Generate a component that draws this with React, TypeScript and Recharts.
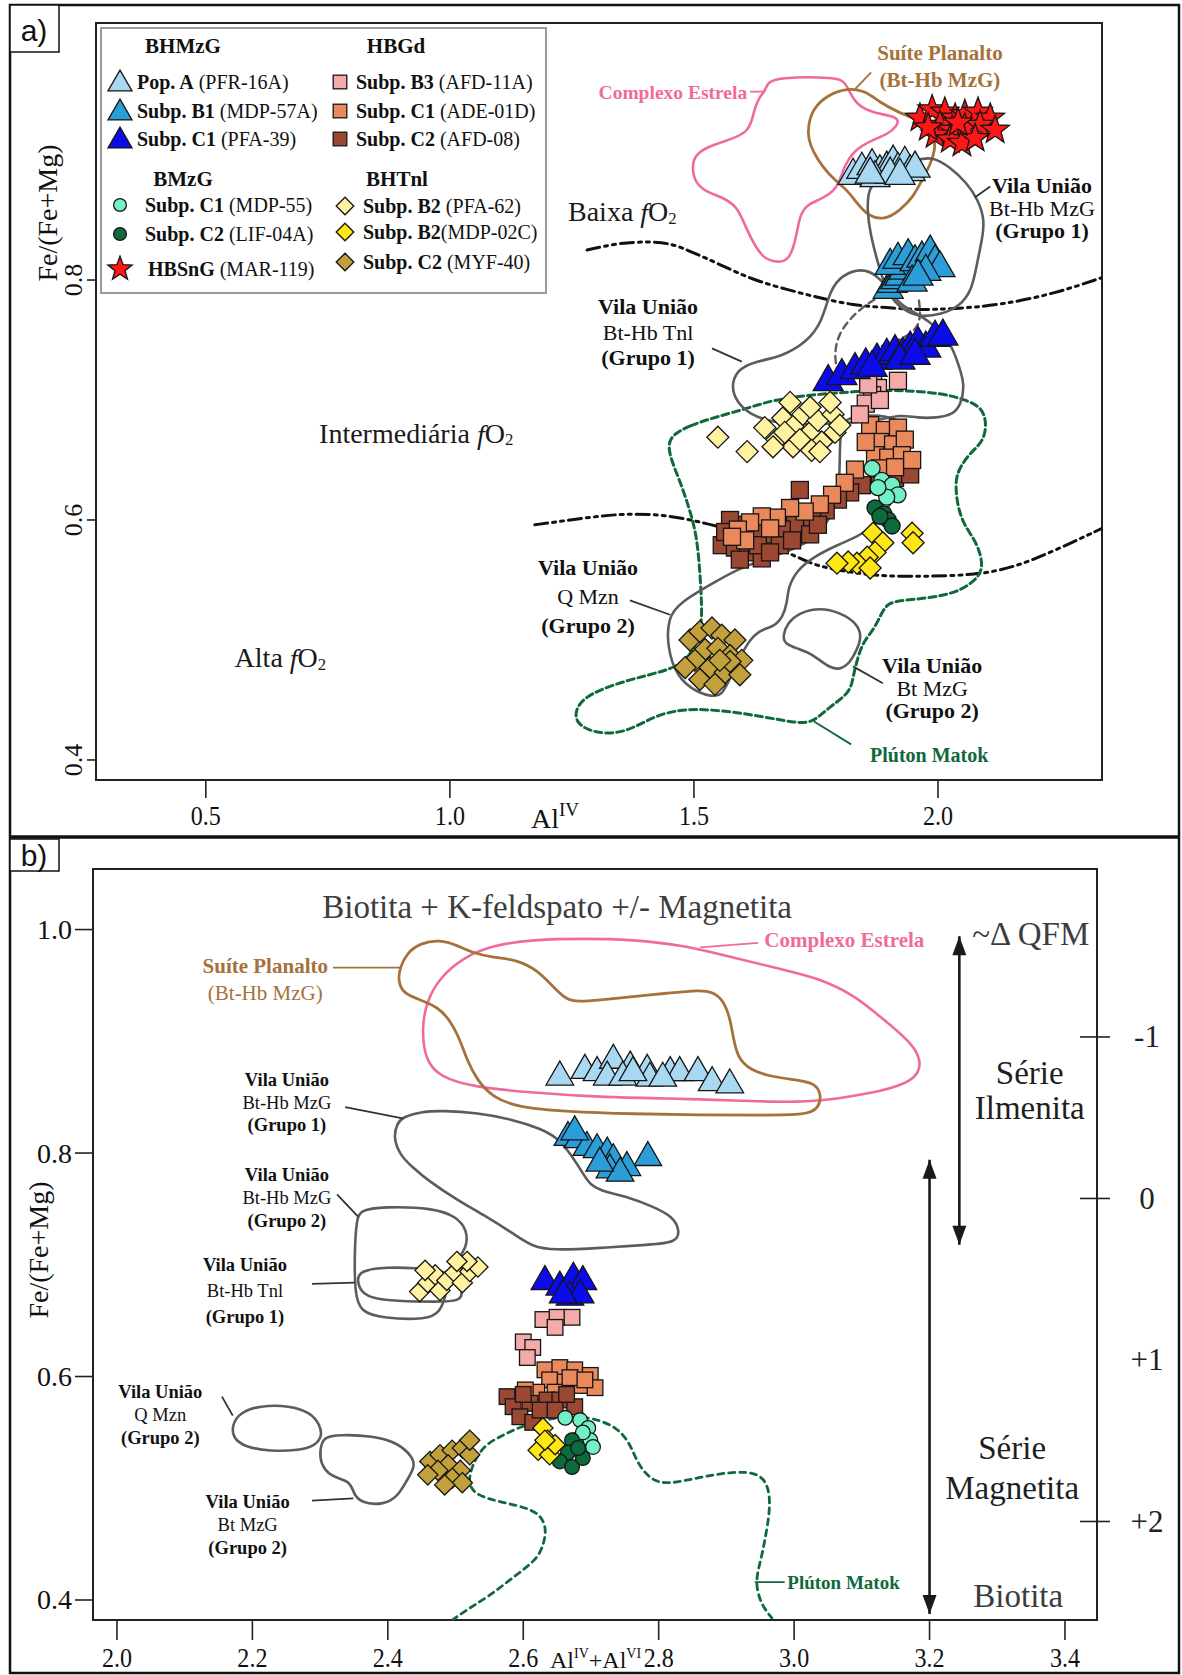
import React from 'react';
import { ScatterChart, Scatter, XAxis, YAxis, ReferenceArea } from 'recharts';

type P = [number, number];

const SERIF = '"Liberation Serif", "Times New Roman", Times, serif';
const SANS = '"Liberation Sans", Arial, sans-serif';

/* ====================== Panel a : Al(IV) x Fe/(Fe+Mg) ====================== */

const aXTicks = [0.5, 1.0, 1.5, 2.0];
const aYTicks = [0.4, 0.6, 0.8];

// BHMzG
const aPopA: P[] = [[1.826,0.887],[1.844,0.892],[1.865,0.895],[1.881,0.890],[1.895,0.893],[1.908,0.898],[1.918,0.892],[1.932,0.897],[1.943,0.890],[1.953,0.893],[1.871,0.885],[1.902,0.888],[1.922,0.887],[1.861,0.888]];
const aSubpB1: P[] = [[1.898,0.792],[1.906,0.797],[1.914,0.800],[1.922,0.803],[1.930,0.808],[1.902,0.812],[1.918,0.817],[1.939,0.820],[1.953,0.815],[1.967,0.818],[1.984,0.823],[1.994,0.815],[2.004,0.810],[1.975,0.807],[1.947,0.798],[1.959,0.803]];
const aSubpC1Tri: P[] = [[1.775,0.715],[1.803,0.720],[1.830,0.725],[1.852,0.729],[1.875,0.733],[1.895,0.737],[1.912,0.740],[1.928,0.738],[1.943,0.743],[1.959,0.747],[1.975,0.743],[1.994,0.752],[2.010,0.753],[1.922,0.733],[1.953,0.737],[1.865,0.727]];
// HBGd
const aSubpB3: P[] = [[1.867,0.722],[1.918,0.716],[1.877,0.710],[1.865,0.704],[1.852,0.697],[1.840,0.688],[1.881,0.700],[1.857,0.713]];
const aSubpC1Sq: P[] = [[1.861,0.679],[1.891,0.675],[1.918,0.677],[1.881,0.665],[1.908,0.663],[1.932,0.667],[1.871,0.654],[1.898,0.652],[1.926,0.654],[1.881,0.643],[1.912,0.644],[1.852,0.665],[1.947,0.650],[1.830,0.642],[1.809,0.631],[1.783,0.621],[1.758,0.613],[1.727,0.607],[1.697,0.610],[1.670,0.602],[1.639,0.603],[1.615,0.598],[1.590,0.592],[1.605,0.583],[1.578,0.586],[1.656,0.593]];
const aSubpC2Sq: P[] = [[1.932,0.643],[1.912,0.635],[1.943,0.638],[1.881,0.633],[1.844,0.629],[1.820,0.623],[1.795,0.617],[1.770,0.608],[1.742,0.602],[1.717,0.625],[1.707,0.596],[1.680,0.592],[1.652,0.588],[1.625,0.592],[1.598,0.596],[1.574,0.600],[1.557,0.579],[1.584,0.577],[1.611,0.573],[1.639,0.568],[1.676,0.579],[1.701,0.583],[1.738,0.588],[1.754,0.596],[1.564,0.590],[1.631,0.579],[1.594,0.567],[1.656,0.573]];
// BMzG
const aSubpC1Circ: P[] = [[1.865,0.643],[1.885,0.633],[1.906,0.629],[1.918,0.621],[1.895,0.619],[1.877,0.627]];
const aSubpC2Circ: P[] = [[1.871,0.610],[1.889,0.605],[1.898,0.600],[1.906,0.595],[1.881,0.603]];
const aHBSnG: P[] = [[1.963,0.935],[1.988,0.942],[2.014,0.940],[2.035,0.935],[2.055,0.938],[2.082,0.940],[2.107,0.935],[2.004,0.929],[2.029,0.925],[2.055,0.927],[2.086,0.929],[2.117,0.925],[1.994,0.921],[2.025,0.917],[2.049,0.914],[2.076,0.918],[1.980,0.927],[2.041,0.931]];
// BHTnl
const aSubpB2Light: P[] = [[1.549,0.669],[1.609,0.657],[1.645,0.677],[1.670,0.667],[1.682,0.685],[1.703,0.678],[1.723,0.688],[1.738,0.673],[1.754,0.683],[1.762,0.665],[1.785,0.688],[1.789,0.673],[1.703,0.661],[1.741,0.658],[1.662,0.661],[1.758,0.657],[1.697,0.698],[1.738,0.694],[1.779,0.698],[1.686,0.673],[1.717,0.667],[1.799,0.679]];
const aSubpB2Yellow: P[] = [[1.867,0.589],[1.887,0.581],[1.871,0.573],[1.855,0.569],[1.834,0.564],[1.816,0.565],[1.793,0.564],[1.861,0.560],[1.947,0.589],[1.949,0.581]];
const aSubpC2Olive: P[] = [[1.492,0.500],[1.512,0.507],[1.537,0.510],[1.557,0.504],[1.584,0.500],[1.523,0.492],[1.549,0.493],[1.574,0.487],[1.598,0.483],[1.502,0.483],[1.482,0.477],[1.533,0.477],[1.564,0.473],[1.594,0.471],[1.512,0.467],[1.543,0.463],[1.574,0.482],[1.553,0.483]];

// fields of comparison units
const aEstrela: P[] = [[1.645,0.957],[1.650,0.964],[1.670,0.969],[1.793,0.969],[1.809,0.965],[1.820,0.956],[1.834,0.946],[1.867,0.939],[1.922,0.936],[1.916,0.928],[1.895,0.921],[1.867,0.917],[1.826,0.908],[1.805,0.892],[1.793,0.875],[1.758,0.867],[1.732,0.863],[1.717,0.854],[1.711,0.839],[1.697,0.815],[1.662,0.815],[1.641,0.819],[1.621,0.831],[1.600,0.850],[1.588,0.861],[1.559,0.869],[1.527,0.873],[1.502,0.881],[1.496,0.894],[1.502,0.904],[1.527,0.911],[1.574,0.917],[1.609,0.923],[1.619,0.933],[1.625,0.944],[1.635,0.953]];
const aPlanalto: P[] = [[1.734,0.929],[1.744,0.943],[1.773,0.954],[1.814,0.960],[1.850,0.958],[1.881,0.948],[1.922,0.939],[1.963,0.933],[1.994,0.921],[1.994,0.908],[1.984,0.896],[1.967,0.883],[1.949,0.869],[1.922,0.858],[1.891,0.850],[1.857,0.853],[1.834,0.864],[1.814,0.875],[1.789,0.883],[1.764,0.894],[1.744,0.907],[1.734,0.918]];
const aVilaMzG1: P[] = [[1.867,0.881],[1.902,0.892],[1.953,0.900],[1.988,0.903],[2.025,0.894],[2.059,0.881],[2.082,0.867],[2.096,0.850],[2.090,0.833],[2.080,0.814],[2.070,0.792],[2.045,0.778],[2.004,0.771],[1.963,0.769],[1.928,0.775],[1.902,0.786],[1.887,0.800],[1.875,0.817],[1.861,0.839],[1.855,0.858],[1.857,0.873]];
const aVilaTnl1: P[] = [[1.844,0.810],[1.875,0.804],[1.900,0.792],[1.924,0.778],[1.982,0.767],[2.027,0.748],[2.043,0.728],[2.055,0.713],[2.047,0.696],[2.031,0.688],[1.998,0.685],[1.957,0.685],[1.922,0.688],[1.881,0.683],[1.820,0.681],[1.713,0.679],[1.656,0.682],[1.615,0.688],[1.588,0.698],[1.576,0.711],[1.588,0.725],[1.623,0.732],[1.680,0.736],[1.730,0.748],[1.762,0.764],[1.779,0.792],[1.803,0.804]];
const aVilaTnl1DashA: P[] = [[1.961,0.783],[1.965,0.768],[1.953,0.757],[1.912,0.748],[1.875,0.744]];
const aVilaTnl1DashB: P[] = [[1.891,0.789],[1.850,0.779],[1.820,0.768],[1.795,0.754],[1.787,0.737],[1.795,0.722]];
const aVilaQMzn2: P[] = [[1.799,0.675],[1.809,0.685],[1.861,0.688],[1.922,0.685],[1.936,0.671],[1.932,0.642],[1.912,0.617],[1.867,0.594],[1.834,0.586],[1.793,0.579],[1.744,0.569],[1.711,0.558],[1.693,0.544],[1.691,0.531],[1.682,0.519],[1.662,0.510],[1.615,0.507],[1.564,0.457],[1.547,0.452],[1.506,0.456],[1.465,0.469],[1.445,0.494],[1.447,0.519],[1.471,0.531],[1.533,0.546],[1.594,0.560],[1.650,0.568],[1.717,0.577],[1.768,0.592],[1.795,0.617],[1.799,0.642]];
const aVilaBtMzG2: P[] = [[1.682,0.503],[1.691,0.514],[1.717,0.523],[1.758,0.527],[1.799,0.523],[1.834,0.514],[1.844,0.503],[1.834,0.492],[1.820,0.481],[1.799,0.475],[1.779,0.477],[1.758,0.483],[1.738,0.489],[1.711,0.493],[1.686,0.497]];
const aMatok: P[] = [[1.445,0.669],[1.492,0.679],[1.547,0.686],[1.609,0.693],[1.662,0.700],[1.732,0.704],[1.799,0.706],[1.861,0.708],[1.928,0.708],[2.004,0.706],[2.059,0.700],[2.092,0.693],[2.100,0.679],[2.092,0.665],[2.066,0.656],[2.045,0.644],[2.035,0.633],[2.039,0.614],[2.051,0.597],[2.080,0.581],[2.092,0.564],[2.086,0.553],[2.051,0.542],[2.004,0.536],[1.928,0.533],[1.895,0.531],[1.881,0.519],[1.867,0.508],[1.846,0.498],[1.834,0.483],[1.826,0.469],[1.820,0.456],[1.777,0.444],[1.746,0.432],[1.715,0.430],[1.621,0.438],[1.498,0.444],[1.422,0.438],[1.359,0.422],[1.297,0.422],[1.254,0.431],[1.260,0.447],[1.301,0.458],[1.369,0.467],[1.430,0.473],[1.486,0.481],[1.516,0.506],[1.516,0.531],[1.512,0.558],[1.506,0.586],[1.492,0.608],[1.471,0.633],[1.451,0.652]];
// fO2 boundaries
const aFO2Upper: P[] = [[1.281,0.825],[1.348,0.831],[1.404,0.832],[1.451,0.831],[1.498,0.823],[1.553,0.813],[1.621,0.800],[1.691,0.792],[1.758,0.785],[1.826,0.779],[1.895,0.777],[1.963,0.775],[2.031,0.776],[2.127,0.779],[2.242,0.789],[2.336,0.802]];
const aFO2Lower: P[] = [[1.174,0.596],[1.211,0.598],[1.281,0.602],[1.348,0.605],[1.416,0.605],[1.471,0.602],[1.527,0.597],[1.574,0.592],[1.635,0.582],[1.691,0.573],[1.723,0.567],[1.758,0.561],[1.826,0.556],[1.895,0.553],[1.963,0.553],[2.080,0.554],[2.160,0.561],[2.242,0.575],[2.336,0.593]];
// label leaders
const aLeadEstrela: P[] = [[1.615,0.957],[1.645,0.957]];
const aLeadPlanalto: P[] = [[1.830,0.959],[1.863,0.973]];
const aLeadMzG1: P[] = [[2.076,0.869],[2.107,0.878]];
const aLeadTnl1: P[] = [[1.537,0.743],[1.598,0.732]];
const aLeadQMzn2: P[] = [[1.369,0.533],[1.451,0.521]];
const aLeadBtMzG2: P[] = [[1.826,0.478],[1.887,0.464]];
const aLeadMatok: P[] = [[1.746,0.432],[1.822,0.413]];

const aNotes = [
  { x: 1.609, y: 0.957, lines: ['Complexo Estrela'], style: 'pink', anchor: 'end' },
  { x: 2.004, y: 0.989, lines: ['Suíte Planalto', '(Bt-Hb MzG)'], style: 'brown', gap: 27 },
  { x: 2.213, y: 0.879, lines: ['*Vila União', 'Bt-Hb MzG', '*(Grupo 1)'], style: 'gray', gap: 22.5 },
  { x: 1.242, y: 0.857, lines: ['Baixa fO2'], style: 'zone', anchor: 'start' },
  { x: 0.732, y: 0.672, lines: ['Intermediária fO2'], style: 'zone', anchor: 'start' },
  { x: 0.559, y: 0.485, lines: ['Alta fO2'], style: 'zone', anchor: 'start' },
  { x: 1.406, y: 0.778, lines: ['*Vila União', 'Bt-Hb Tnl', '*(Grupo 1)'], style: 'gray', gap: 25.5 },
  { x: 1.283, y: 0.561, lines: ['*Vila União', 'Q Mzn', '*(Grupo 2)'], style: 'gray', gap: 29 },
  { x: 1.988, y: 0.479, lines: ['*Vila União', 'Bt MzG', '*(Grupo 2)'], style: 'gray', gap: 22.5 },
  { x: 1.982, y: 0.404, lines: ['Plúton Matok'], style: 'green' },
];

/* ================= Panel b : (Al(IV)+Al(VI)) x Fe/(Fe+Mg) ================= */

const bXTicks = [2.0, 2.2, 2.4, 2.6, 2.8, 3.0, 3.2, 3.4];
const bYTicks = [0.4, 0.6, 0.8, 1.0];
const bQfmTicks = [-1, 0, 1, 2];

const bPopA: P[] = [[2.654,0.868],[2.691,0.874],[2.709,0.872],[2.733,0.883],[2.758,0.877],[2.783,0.874],[2.817,0.872],[2.831,0.872],[2.858,0.872],[2.879,0.863],[2.905,0.861],[2.724,0.868],[2.747,0.868],[2.787,0.867],[2.806,0.867],[2.762,0.872]];
const bSubpB1: P[] = [[2.666,0.814],[2.681,0.812],[2.694,0.805],[2.709,0.803],[2.724,0.800],[2.733,0.794],[2.728,0.785],[2.784,0.796],[2.753,0.787],[2.743,0.782],[2.676,0.819],[2.713,0.791]];
const bSubpC1Tri: P[] = [[2.632,0.685],[2.654,0.680],[2.665,0.676],[2.674,0.688],[2.688,0.685],[2.669,0.671],[2.684,0.673],[2.659,0.673]];
const bSubpB3: P[] = [[2.629,0.651],[2.650,0.653],[2.672,0.653],[2.647,0.644],[2.600,0.631],[2.614,0.626],[2.606,0.617]];
const bSubpC1Sq: P[] = [[2.632,0.606],[2.654,0.608],[2.676,0.606],[2.699,0.601],[2.639,0.597],[2.662,0.595],[2.684,0.592],[2.706,0.590],[2.620,0.586],[2.647,0.586],[2.603,0.588],[2.669,0.599],[2.691,0.597]];
const bSubpC2Sq: P[] = [[2.576,0.582],[2.585,0.573],[2.610,0.576],[2.635,0.579],[2.654,0.579],[2.676,0.573],[2.595,0.564],[2.614,0.559],[2.625,0.570],[2.647,0.570],[2.600,0.584],[2.664,0.584]];
const bSubpC1Circ: P[] = [[2.662,0.563],[2.684,0.561],[2.696,0.554],[2.699,0.543],[2.676,0.543],[2.703,0.537],[2.688,0.550]];
const bSubpC2Circ: P[] = [[2.672,0.543],[2.666,0.532],[2.654,0.524],[2.672,0.519],[2.688,0.527],[2.681,0.536]];
const bSubpB2Light: P[] = [[2.447,0.676],[2.459,0.684],[2.470,0.691],[2.477,0.677],[2.487,0.686],[2.499,0.693],[2.510,0.684],[2.521,0.694],[2.533,0.698],[2.517,0.703],[2.502,0.703],[2.455,0.695]];
const bSubpB2Yellow: P[] = [[2.629,0.554],[2.636,0.543],[2.622,0.534],[2.639,0.530],[2.647,0.539],[2.632,0.543]];
const bSubpC2Olive: P[] = [[2.462,0.524],[2.477,0.530],[2.495,0.534],[2.510,0.536],[2.521,0.530],[2.489,0.521],[2.507,0.516],[2.474,0.516],[2.495,0.509],[2.510,0.505],[2.484,0.503],[2.459,0.512],[2.521,0.543]];

const bEstrela: P[] = [[2.455,0.883],[2.450,0.913],[2.458,0.937],[2.477,0.957],[2.511,0.975],[2.555,0.986],[2.614,0.991],[2.688,0.992],[2.762,0.991],[2.836,0.986],[2.910,0.975],[2.984,0.964],[3.034,0.957],[3.090,0.941],[3.127,0.922],[3.176,0.898],[3.190,0.879],[3.176,0.864],[3.127,0.855],[3.068,0.849],[3.009,0.845],[2.910,0.847],[2.812,0.849],[2.713,0.850],[2.614,0.854],[2.526,0.859],[2.477,0.868]];
const bPlanalto: P[] = [[2.418,0.966],[2.428,0.979],[2.448,0.988],[2.477,0.991],[2.502,0.986],[2.526,0.979],[2.555,0.975],[2.591,0.973],[2.620,0.964],[2.644,0.949],[2.659,0.940],[2.673,0.935],[2.713,0.937],[2.762,0.940],[2.812,0.943],[2.861,0.946],[2.880,0.944],[2.895,0.937],[2.905,0.922],[2.910,0.904],[2.916,0.886],[2.935,0.874],[2.969,0.868],[3.009,0.865],[3.031,0.862],[3.040,0.853],[3.037,0.840],[3.016,0.834],[2.960,0.834],[2.861,0.834],[2.762,0.835],[2.665,0.837],[2.591,0.841],[2.555,0.850],[2.532,0.865],[2.517,0.883],[2.507,0.901],[2.492,0.919],[2.473,0.931],[2.448,0.937],[2.422,0.943],[2.415,0.955]];
const bVilaMzG1: P[] = [[2.422,0.832],[2.448,0.837],[2.481,0.838],[2.532,0.836],[2.585,0.830],[2.625,0.822],[2.650,0.814],[2.669,0.800],[2.688,0.782],[2.699,0.771],[2.721,0.765],[2.753,0.761],[2.792,0.752],[2.821,0.743],[2.831,0.731],[2.827,0.720],[2.787,0.718],[2.713,0.715],[2.644,0.713],[2.614,0.716],[2.585,0.728],[2.546,0.743],[2.502,0.758],[2.458,0.776],[2.437,0.787],[2.418,0.798],[2.408,0.814],[2.414,0.827]];
const bVilaMzG2: P[] = [[2.359,0.749],[2.393,0.752],[2.467,0.751],[2.502,0.743],[2.517,0.731],[2.517,0.716],[2.502,0.704],[2.489,0.689],[2.487,0.675],[2.477,0.657],[2.458,0.651],[2.393,0.652],[2.359,0.658],[2.351,0.675],[2.351,0.716],[2.354,0.740]];
const bVilaTnl1: P[] = [[2.354,0.686],[2.359,0.695],[2.399,0.698],[2.443,0.697],[2.477,0.695],[2.502,0.689],[2.511,0.677],[2.507,0.668],[2.487,0.667],[2.443,0.667],[2.393,0.668],[2.362,0.673]];
const bVilaQMzn2: P[] = [[2.170,0.557],[2.182,0.568],[2.211,0.574],[2.255,0.574],[2.285,0.568],[2.300,0.557],[2.303,0.546],[2.292,0.538],[2.270,0.534],[2.226,0.533],[2.189,0.537],[2.171,0.545]];
const bVilaBtMzG2: P[] = [[2.300,0.534],[2.304,0.546],[2.329,0.548],[2.378,0.547],[2.414,0.541],[2.437,0.528],[2.440,0.519],[2.428,0.507],[2.414,0.492],[2.393,0.485],[2.359,0.487],[2.349,0.496],[2.344,0.507],[2.315,0.510],[2.300,0.523]];
const bMatok: P[] = [[2.495,0.382],[2.521,0.393],[2.551,0.404],[2.580,0.418],[2.620,0.436],[2.629,0.448],[2.635,0.463],[2.625,0.478],[2.591,0.485],[2.546,0.490],[2.511,0.501],[2.536,0.537],[2.566,0.546],[2.591,0.554],[2.614,0.558],[2.644,0.563],[2.673,0.564],[2.703,0.563],[2.738,0.555],[2.758,0.540],[2.768,0.523],[2.787,0.508],[2.812,0.503],[2.861,0.510],[2.910,0.515],[2.950,0.514],[2.964,0.499],[2.964,0.478],[2.957,0.454],[2.951,0.436],[2.942,0.416],[2.951,0.396],[2.967,0.384]];

const bLeadEstrela: P[] = [[2.861,0.984],[2.947,0.988]];
const bLeadPlanalto: P[] = [[2.319,0.966],[2.418,0.966]];
const bLeadMzG1: P[] = [[2.337,0.841],[2.422,0.831]];
const bLeadMzG2: P[] = [[2.325,0.763],[2.356,0.743]];
const bLeadTnl1: P[] = [[2.288,0.683],[2.351,0.684]];
const bLeadQMzn2: P[] = [[2.155,0.582],[2.171,0.565]];
const bLeadBtMzG2: P[] = [[2.288,0.489],[2.349,0.491]];
const bLeadMatok: P[] = [[2.942,0.416],[2.986,0.416]];

// oxidation-series arrows: [x, top, bottom]
const bArrowIlmenita = [3.244, 0.994, 0.718];
const bArrowMagnetita = [3.2, 0.794, 0.3875];

const bNotes = [
  { x: 2.650, y: 1.020, lines: ['Biotita + K-feldspato +/- Magnetita'], style: 'big' },
  { x: 2.956, y: 0.991, lines: ['Complexo Estrela'], style: 'pinkB', anchor: 'start' },
  { x: 2.219, y: 0.967, lines: ['*Suíte Planalto', '(Bt-Hb MzG)'], style: 'brownB', gap: 27 },
  { x: 2.251, y: 0.865, lines: ['*Vila União', 'Bt-Hb MzG', '*(Grupo 1)'], style: 'grayB', gap: 22.5 },
  { x: 2.251, y: 0.780, lines: ['*Vila União', 'Bt-Hb MzG', '*(Grupo 2)'], style: 'grayB', gap: 23 },
  { x: 2.189, y: 0.700, lines: ['*Vila União', 'Bt-Hb Tnl', '*(Grupo 1)'], style: 'grayB', gap: 26 },
  { x: 2.064, y: 0.586, lines: ['*Vila União', 'Q Mzn', '*(Grupo 2)'], style: 'grayB', gap: 23 },
  { x: 2.193, y: 0.488, lines: ['*Vila União', 'Bt MzG', '*(Grupo 2)'], style: 'grayB', gap: 23 },
  { x: 2.990, y: 0.416, lines: ['Plúton Matok'], style: 'greenB', anchor: 'start' },
  { x: 3.263, y: 0.996, lines: ['~Δ QFM'], style: 'big', anchor: 'start' },
  { x: 3.348, y: 0.872, lines: ['Série', 'Ilmenita'], style: 'series', gap: 35 },
  { x: 3.322, y: 0.536, lines: ['Série', 'Magnetita'], style: 'series', gap: 40 },
  { x: 3.331, y: 0.404, lines: ['Biotita'], style: 'big' },
];

/* ============================== legend ============================== */

const legendGroups = [
  { title: 'BHMzG', items: [['popA', 'Pop. A', ' (PFR-16A)'], ['b1', 'Subp. B1', ' (MDP-57A)'], ['c1t', 'Subp. C1', ' (PFA-39)']] },
  { title: 'HBGd', items: [['b3', 'Subp. B3', ' (AFD-11A)'], ['c1s', 'Subp. C1', ' (ADE-01D)'], ['c2s', 'Subp. C2', ' (AFD-08)']] },
  { title: 'BMzG', items: [['c1c', 'Subp. C1', ' (MDP-55)'], ['c2c', 'Subp. C2', ' (LIF-04A)'], ['star', 'HBSnG', ' (MAR-119)']] },
  { title: 'BHTnl', items: [['b2l', 'Subp. B2', ' (PFA-62)'], ['b2y', 'Subp. B2', '(MDP-02C)'], ['c2o', 'Subp. C2', ' (MYF-40)']] },
];

/* ============================== styling ============================== */

const FILL: Record<string, string> = {
  popA: '#a9d9f2', b1: '#2b9dd8', c1t: '#0c0ceb', b3: '#f4aaa8', c1s: '#ea8a5c', c2s: '#9a4832',
  c1c: '#74f0c8', c2c: '#0d6a3a', star: '#ff1616', b2l: '#fff2a0', b2y: '#ffe716', c2o: '#c2a13c',
};
const KIND: Record<string, string> = {
  popA: 'tri', b1: 'tri', c1t: 'tri', b3: 'sq', c1s: 'sq', c2s: 'sq',
  c1c: 'circ', c2c: 'circ', star: 'star', b2l: 'dia', b2y: 'dia', c2o: 'dia',
};
const PINK = '#ef6b9c';
const BROWN = '#a4723a';
const GRAY = '#5c5c5c';
const GREEN = '#10693b';

const NOTE_STYLE: Record<string, any> = {
  pink: { size: 19.5, color: PINK, weight: 'bold' },
  brown: { size: 21, color: BROWN, weight: 'bold' },
  gray: { size: 22, color: '#111' },
  zone: { size: 28, color: '#1a1a1a' },
  green: { size: 20, color: GREEN, weight: 'bold' },
  pinkB: { size: 21, color: PINK, weight: 'bold' },
  brownB: { size: 21, color: BROWN },
  grayB: { size: 18.5, color: '#111' },
  greenB: { size: 19, color: GREEN, weight: 'bold' },
  big: { size: 33, color: '#3d3d3d' },
  series: { size: 33, color: '#1e1e1e' },
};

const toPts = (a: P[]) => a.map(([x, y]) => ({ x, y }));

function Marker({ kind, cx, cy, fill, k = 1 }: any) {
  const st = { fill, stroke: '#151515', strokeWidth: 1.3 };
  if (kind === 'tri') {
    const w = 30 * k, h = 26 * k;
    return <polygon points={`${cx},${cy - (2 * h) / 3} ${cx - w / 2},${cy + h / 3} ${cx + w / 2},${cy + h / 3}`} {...st} />;
  }
  if (kind === 'sq') {
    const a = 17 * k;
    return <rect x={cx - a / 2} y={cy - a / 2} width={a} height={a} {...st} />;
  }
  if (kind === 'dia') {
    const r = 11 * k;
    return <polygon points={`${cx},${cy - r} ${cx + r},${cy} ${cx},${cy + r} ${cx - r},${cy}`} {...st} />;
  }
  if (kind === 'circ') return <circle cx={cx} cy={cy} r={8 * k} {...st} />;
  const R = 15 * k, r = 6.2 * k;
  const v = Array.from({ length: 10 }, (_, i) => {
    const a = ((-90 + i * 36) * Math.PI) / 180;
    const rr = i % 2 ? r : R;
    return `${(cx + rr * Math.cos(a)).toFixed(2)},${(cy + rr * Math.sin(a)).toFixed(2)}`;
  }).join(' ');
  return <polygon points={v} {...st} />;
}

function Rich({ s }: { s: string }) {
  const bold = s.startsWith('*');
  const t = bold ? s.slice(1) : s;
  if (t.endsWith('fO2')) {
    return (
      <>
        {t.slice(0, -3)}
        <tspan fontStyle="italic">f</tspan>O<tspan fontSize="0.6em" dy="0.35em">2</tspan>
      </>
    );
  }
  return <tspan fontWeight={bold ? 'bold' : undefined}>{t}</tspan>;
}

function NoteText({ cx, cy, note }: any) {
  const st = NOTE_STYLE[note.style];
  const gap = note.gap ?? st.size * 1.1;
  return (
    <g>
      {note.lines.map((ln: string, i: number) => (
        <text key={i} x={cx} y={cy + i * gap} textAnchor={note.anchor ?? 'middle'} dominantBaseline="central"
          fontFamily={SERIF} fontSize={st.size} fill={st.color} fontWeight={st.weight}>
          <Rich s={ln} />
        </text>
      ))}
    </g>
  );
}

const noShape = () => <g />;

const marks = (id: string, key: string, data: P[], k = 1) => (
  <Scatter key={id} name={id} data={toPts(data)} isAnimationActive={false} legendType="none"
    shape={(p: any) => <Marker kind={KIND[key]} cx={p.cx} cy={p.cy} fill={FILL[key]} k={k} />} />
);

const curve = (id: string, data: P[], stroke: string, width: number, closed: boolean, dash?: string) => (
  <Scatter key={id} name={id} data={toPts(data)} isAnimationActive={false} legendType="none"
    line={{ stroke, strokeWidth: width, fill: 'none', strokeDasharray: dash, strokeLinecap: 'round', strokeLinejoin: 'round' }}
    lineType="joint" lineJointType={closed ? 'basisClosed' : 'basis'} shape={noShape} />
);

const leader = (id: string, data: P[], stroke: string) => (
  <Scatter key={id} name={id} data={toPts(data)} isAnimationActive={false} legendType="none"
    line={{ stroke, strokeWidth: 1.8, fill: 'none' }} lineType="joint" lineJointType="linear" shape={noShape} />
);

const notes = (prefix: string, list: any[]) =>
  list.map((n, i) => (
    <Scatter key={`${prefix}${i}`} name={`${prefix}${i}`} data={[{ x: n.x, y: n.y }]} isAnimationActive={false}
      legendType="none" shape={(p: any) => <NoteText cx={p.cx} cy={p.cy} note={n} />} />
  ));

function ArrowHead({ cx, cy, dir }: any) {
  const s = dir === 'up' ? 1 : -1;
  return <polygon points={`${cx},${cy} ${cx - 7},${cy + s * 19} ${cx + 7},${cy + s * 19}`} fill="#1a1a1a" />;
}

const arrow = (id: string, spec: number[]) => (
  <Scatter key={id} name={id} isAnimationActive={false} legendType="none"
    data={[{ x: spec[0], y: spec[1], dir: 'up' }, { x: spec[0], y: spec[2], dir: 'down' }]}
    line={{ stroke: '#1a1a1a', strokeWidth: 2.6, fill: 'none' }} lineType="joint" lineJointType="linear"
    shape={(p: any) => <ArrowHead cx={p.cx} cy={p.cy} dir={p.payload.dir} />} />
);

const axisLine = { stroke: '#222', strokeWidth: 2 };
const tickLine = { stroke: '#222', strokeWidth: 1.6 };

const ATickX = (p: any) => (
  <text x={0} y={0} transform={`translate(${p.x},${p.y + 25}) scale(0.86,1)`} textAnchor="middle"
    fontFamily={SERIF} fontSize={28} fill="#111">
    {Number(p.payload.value).toFixed(1)}
  </text>
);
const ATickY = (p: any) => (
  <text x={0} y={0} transform={`translate(${p.x - 12},${p.y}) rotate(-90)`} textAnchor="middle"
    dominantBaseline="central" fontFamily={SERIF} fontSize={26} fill="#111">
    {Number(p.payload.value).toFixed(1)}
  </text>
);
const BTickX = (p: any) => (
  <text x={0} y={0} transform={`translate(${p.x},${p.y + 25}) scale(0.86,1)`} textAnchor="middle"
    fontFamily={SERIF} fontSize={28} fill="#111">
    {Number(p.payload.value).toFixed(1)}
  </text>
);
const BTickY = (p: any) => (
  <text x={p.x} y={p.y} textAnchor="end" dominantBaseline="central" fontFamily={SERIF} fontSize={28} fill="#111">
    {Number(p.payload.value).toFixed(1)}
  </text>
);
const QfmTick = (p: any) => {
  const v = p.payload.value;
  const label = v > 0 ? `+${v}` : `${v}`;
  return (
    <g>
      {v !== 1 && <line x1={p.x - 17} x2={p.x + 13} y1={p.y} y2={p.y} stroke="#222" strokeWidth={1.6} />}
      <text x={p.x + 50} y={p.y} textAnchor="middle" dominantBaseline="central" fontFamily={SERIF} fontSize={31} fill="#222">
        {label}
      </text>
    </g>
  );
};

function PanelA() {
  const X: [number, number] = [0.275, 2.336];
  const Y: [number, number] = [0.3833, 1.0142];
  return (
    <ScatterChart width={1182} height={836} margin={{ top: 23, right: 80, bottom: 0, left: 46 }}>
      <XAxis type="number" dataKey="x" domain={X} allowDataOverflow ticks={aXTicks} interval={0} height={56}
        tickSize={18} tickMargin={2} axisLine={axisLine} tickLine={tickLine} tick={ATickX} />
      <YAxis type="number" dataKey="y" domain={Y} allowDataOverflow ticks={aYTicks} interval={0} width={50}
        tickSize={9} tickMargin={2} axisLine={axisLine} tickLine={tickLine} tick={ATickY} />
      <ReferenceArea x1={X[0]} x2={X[1]} y1={Y[0]} y2={Y[1]} fill="none" stroke="#222" strokeWidth={2} ifOverflow="visible" />

      {curve('fo2Up', aFO2Upper, '#111', 3, false, '13 5 3 5 3 5')}
      {curve('fo2Lo', aFO2Lower, '#111', 3, false, '13 5 3 5 3 5')}
      {curve('matok', aMatok, GREEN, 3, true, '7 4')}
      {curve('estrela', aEstrela, PINK, 2.6, true)}
      {curve('planalto', aPlanalto, BROWN, 2.8, true)}
      {curve('mzg1', aVilaMzG1, GRAY, 2.6, true)}
      {curve('tnl1', aVilaTnl1, GRAY, 2.6, true)}
      {curve('tnlDa', aVilaTnl1DashA, GRAY, 2.4, false, '7 5')}
      {curve('tnlDb', aVilaTnl1DashB, GRAY, 2.4, false, '7 5')}
      {curve('qmzn2', aVilaQMzn2, GRAY, 2.6, true)}
      {curve('btmzg2', aVilaBtMzG2, GRAY, 2.6, true)}

      {leader('lEst', aLeadEstrela, PINK)}
      {leader('lPla', aLeadPlanalto, BROWN)}
      {leader('lMzg1', aLeadMzG1, '#333')}
      {leader('lTnl1', aLeadTnl1, '#333')}
      {leader('lQmz', aLeadQMzn2, '#333')}
      {leader('lBt2', aLeadBtMzG2, '#333')}
      {leader('lMat', aLeadMatok, GREEN)}

      {notes('an', aNotes)}

      {marks('aC2Sq', 'c2s', aSubpC2Sq)}
      {marks('aC1Sq', 'c1s', aSubpC1Sq)}
      {marks('aB3', 'b3', aSubpB3)}
      {marks('aC1Ci', 'c1c', aSubpC1Circ)}
      {marks('aC2Ci', 'c2c', aSubpC2Circ)}
      {marks('aB2L', 'b2l', aSubpB2Light)}
      {marks('aB2Y', 'b2y', aSubpB2Yellow)}
      {marks('aC2O', 'c2o', aSubpC2Olive)}
      {marks('aPopA', 'popA', aPopA)}
      {marks('aB1', 'b1', aSubpB1)}
      {marks('aC1T', 'c1t', aSubpC1Tri)}
      {marks('aSn', 'star', aHBSnG)}
    </ScatterChart>
  );
}

function PanelB() {
  const X: [number, number] = [1.9646, 3.4473];
  const Y: [number, number] = [0.3821, 1.0542];
  const k = 0.92;
  return (
    <ScatterChart width={1182} height={839} margin={{ top: 33, right: 25, bottom: 0, left: 43 }}>
      <XAxis type="number" dataKey="x" domain={X} allowDataOverflow ticks={bXTicks} interval={0} height={55}
        tickSize={20} tickMargin={2} axisLine={axisLine} tickLine={tickLine} tick={BTickX} />
      <YAxis type="number" dataKey="y" domain={Y} allowDataOverflow ticks={bYTicks} interval={0} width={50}
        tickSize={18} tickMargin={3} axisLine={axisLine} tickLine={tickLine} tick={BTickY} />
      <YAxis yAxisId="qfm" orientation="right" type="number" domain={[-2.04, 2.61]} reversed allowDataOverflow
        ticks={bQfmTicks} interval={0} width={60} tickSize={0} tickMargin={0} axisLine={false} tickLine={false} tick={QfmTick} />
      <ReferenceArea x1={X[0]} x2={X[1]} y1={Y[0]} y2={Y[1]} fill="none" stroke="#222" strokeWidth={2} ifOverflow="visible" />

      {curve('bmatok', bMatok, GREEN, 2.8, false, '6 5')}
      {curve('bestrela', bEstrela, PINK, 2.6, true)}
      {curve('bplanalto', bPlanalto, BROWN, 2.8, true)}
      {curve('bmzg1', bVilaMzG1, GRAY, 2.6, true)}
      {curve('bmzg2', bVilaMzG2, GRAY, 2.6, true)}
      {curve('btnl1', bVilaTnl1, GRAY, 2.6, true)}
      {curve('bqmzn2', bVilaQMzn2, GRAY, 2.6, true)}
      {curve('bbtmzg2', bVilaBtMzG2, GRAY, 2.6, true)}

      {leader('blEst', bLeadEstrela, PINK)}
      {leader('blPla', bLeadPlanalto, BROWN)}
      {leader('blMz1', bLeadMzG1, '#333')}
      {leader('blMz2', bLeadMzG2, '#333')}
      {leader('blTn1', bLeadTnl1, '#333')}
      {leader('blQm2', bLeadQMzn2, '#333')}
      {leader('blBt2', bLeadBtMzG2, '#333')}
      {leader('blMat', bLeadMatok, GREEN)}

      {arrow('arIlm', bArrowIlmenita)}
      {arrow('arMag', bArrowMagnetita)}

      {notes('bn', bNotes)}

      {marks('bC1Sq', 'c1s', bSubpC1Sq, k)}
      {marks('bC2Sq', 'c2s', bSubpC2Sq, k)}
      {marks('bB3', 'b3', bSubpB3, k)}
      {marks('bC1Ci', 'c1c', bSubpC1Circ, k)}
      {marks('bC2Ci', 'c2c', bSubpC2Circ, k)}
      {marks('bB2Y', 'b2y', bSubpB2Yellow, k)}
      {marks('bB2L', 'b2l', bSubpB2Light, k)}
      {marks('bC2O', 'c2o', bSubpC2Olive, k)}
      {marks('bPopA', 'popA', bPopA, k)}
      {marks('bB1', 'b1', bSubpB1, k)}
      {marks('bC1T', 'c1t', bSubpC1Tri, k)}
    </ScatterChart>
  );
}

function LegendBox() {
  const layout = [
    { tx: 83, ty: 19, sx: 20, txt: [37, 37, 37], rows: [55, 84, 112] },
    { tx: 296, ty: 19, sx: 240, txt: [256, 256, 256], rows: [55, 84, 112] },
    { tx: 83, ty: 152, sx: 20, txt: [45, 45, 48], rows: [178, 207, 242] },
    { tx: 297, ty: 152, sx: 245, txt: [263, 263, 263], rows: [179, 205, 235] },
  ];
  return (
    <svg width={447} height={267} style={{ position: 'absolute', left: 100, top: 27 }}>
      <rect x={1} y={1} width={445} height={265} fill="#fff" stroke="#9a9a9a" strokeWidth={2} />
      {legendGroups.map((g, gi) => {
        const L = layout[gi];
        return (
          <g key={g.title}>
            <text x={L.tx} y={L.ty} textAnchor="middle" dominantBaseline="central" fontFamily={SERIF} fontSize={21} fontWeight="bold" fill="#111">
              {g.title}
            </text>
            {g.items.map(([sym, b, rest], i) => (
              <g key={i}>
                <Marker kind={KIND[sym]} cx={L.sx} cy={L.rows[i] + (KIND[sym] === 'tri' ? 2 : 0)} fill={FILL[sym]} k={KIND[sym] === 'star' ? 0.85 : 0.8} />
                <text x={L.txt[i]} y={L.rows[i]} dominantBaseline="central" fontFamily={SERIF} fontSize={20} fill="#111">
                  <tspan fontWeight="bold">{b}</tspan>{rest}
                </text>
              </g>
            ))}
          </g>
        );
      })}
    </svg>
  );
}

export default function App() {
  return (
    <div style={{ position: 'absolute', left: 0, top: 0, width: 1182, height: 1675, background: '#fff', overflow: 'hidden' }}>
      <div style={{ position: 'absolute', left: 0, top: 0 }}>
        <PanelA />
      </div>
      <div style={{ position: 'absolute', left: 0, top: 836 }}>
        <PanelB />
      </div>
      <LegendBox />
      <svg width={1182} height={1675} style={{ position: 'absolute', left: 0, top: 0, pointerEvents: 'none' }}>
        {/* frames */}
        <rect x={10} y={5} width={1169} height={1668} fill="none" stroke="#111" strokeWidth={2.5} />
        <line x1={10} x2={1179} y1={837} y2={837} stroke="#111" strokeWidth={3.5} />
        <rect x={10} y={5} width={49} height={47} fill="#fff" stroke="#111" strokeWidth={1.5} />
        <text x={34} y={30} textAnchor="middle" dominantBaseline="central" fontFamily={SANS} fontSize={30} fill="#111">a)</text>
        <rect x={10} y={839} width={49} height={32} fill="#fff" stroke="#111" strokeWidth={1.5} />
        <text x={34} y={855} textAnchor="middle" dominantBaseline="central" fontFamily={SANS} fontSize={30} fill="#111">b)</text>
        {/* axis titles */}
        <text x={0} y={0} transform="translate(47,213) rotate(-90)" textAnchor="middle" dominantBaseline="central" fontFamily={SERIF} fontSize={28} fill="#111">
          Fe/(Fe+Mg)
        </text>
        <text x={531} y={828} fontFamily={SERIF} fontSize={28} fill="#111">
          Al<tspan dy={-12} fontSize={19}>IV</tspan>
        </text>
        <text x={0} y={0} transform="translate(38,1250) rotate(-90)" textAnchor="middle" dominantBaseline="central" fontFamily={SERIF} fontSize={28} fill="#111">
          Fe/(Fe+Mg)
        </text>
        <text x={550} y={1668} fontFamily={SERIF} fontSize={24} fill="#111">
          Al<tspan dy={-10} fontSize={14}>IV</tspan><tspan dy={10}>+Al</tspan><tspan dy={-10} fontSize={14}>VI</tspan>
        </text>
      </svg>
    </div>
  );
}
